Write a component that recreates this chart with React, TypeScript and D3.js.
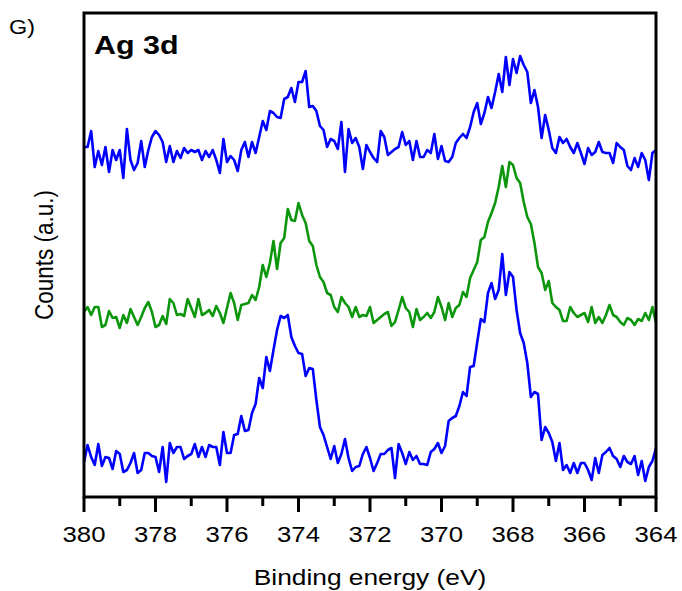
import React, { useEffect, useRef } from "react";
import * as d3 from "d3";

// binding energy grid, 380 -> 364 eV in 0.1 eV steps
const energies: number[] = d3.range(161).map((i) => +(380 - i * 0.1).toFixed(1));

// counts (a.u.), offset traces stacked top to bottom
const topBlue: number[] = [
  353, 353, 369, 333, 349, 335, 353, 328, 350, 340, 350, 322, 371, 340, 330, 337, 359, 333, 350, 363,
  369, 365, 358, 338, 354, 338, 349, 342, 352, 347, 350, 348, 350, 340, 349, 343, 350, 340, 327, 361,
  338, 344, 340, 329, 350, 358, 343, 358, 347, 363, 379, 370, 389, 387, 383,
  382, 401, 403, 412, 398, 418, 418, 429, 393, 394, 389, 374, 370, 353, 361, 359, 351, 378, 328, 371,
  357, 362, 353, 331, 355, 348, 342, 338, 369, 363, 345, 348, 351, 353, 368, 355, 359, 340, 359, 343,
  343, 350, 347, 366, 341, 354, 339, 338, 343, 357, 362, 366, 362,
  373, 388, 397, 376, 387, 403, 392, 408, 426, 408, 443, 415, 441, 427, 444, 435, 428, 397, 410, 393,
  362, 385, 370, 352, 347, 363, 357, 361, 353, 347, 357, 347, 336, 352, 345, 348, 358, 348, 347, 347,
  337, 357, 353, 350, 334, 330, 342, 333, 347, 340, 320, 347, 350,
];

const midGreen: number[] = [
  188, 193, 185, 193, 193, 173, 175, 189, 182, 183, 172, 185, 177, 191, 183, 175, 183, 192, 198, 188,
  173, 175, 184, 176, 201, 197, 185, 186, 184, 201, 192, 183, 201, 185, 187, 190, 184, 194, 187, 177,
  192, 207, 197, 180, 195, 196, 197, 205, 200, 213, 235, 223, 237, 259, 231, 257,
  262, 291, 280, 279, 297, 285, 277, 259, 254, 235, 223, 218, 207, 205, 193, 188, 203, 197, 193, 183,
  193, 183, 185, 184, 193, 177, 180, 183, 186, 188, 174, 178, 190, 203, 192, 188, 173, 191, 180, 183,
  187, 182, 188, 203, 193, 180, 197, 183, 192, 195, 208, 203,
  222, 230, 238, 260, 263, 278, 287, 297, 313, 334, 313, 338, 335, 322, 317, 298, 283, 276, 257, 233,
  227, 210, 219, 197, 193, 190, 179, 179, 193, 187, 183, 185, 187, 178, 193, 177, 183, 177, 185, 195,
  185, 183, 178, 175, 182, 180, 175, 181, 179, 187, 180, 193, 177,
];

const bottomBlue: number[] = [
  38, 55, 43, 35, 56, 34, 43, 42, 31, 49, 46, 28, 30, 37, 47, 27, 30, 47, 47, 44,
  43, 28, 53, 18, 57, 47, 53, 53, 41, 44, 46, 56, 43, 53, 43, 55, 53, 53, 35, 68,
  47, 47, 65, 66, 84, 69, 70, 87, 96, 122, 112, 143, 129, 150,
  170, 184, 182, 185, 163, 154, 147, 146, 124, 132, 131, 100, 73, 65, 53, 41, 54, 37, 46, 61,
  42, 29, 33, 34, 46, 53, 42, 29, 37, 46, 46, 50, 52, 22, 56, 47, 36, 48, 40, 44,
  36, 36, 35, 48, 51, 57, 47, 54, 79, 82, 84, 94, 108, 104,
  133, 134, 158, 181, 178, 207, 217, 201, 210, 246, 205, 228, 223, 190, 167, 157, 137, 103, 108, 106,
  60, 73, 67, 58, 39, 57, 30, 35, 27, 37, 27, 37, 37, 30, 20, 42, 27, 45, 48, 52,
  44, 41, 33, 44, 38, 36, 44, 25, 39, 19, 33, 39, 52,
];

const seriesList = [
  { name: "top", values: topBlue, color: "#0000ff" },
  { name: "middle", values: midGreen, color: "#0c960c" },
  { name: "bottom", values: bottomBlue, color: "#0000ff" },
];

const xTicks: number[] = [380, 378, 376, 374, 372, 370, 368, 366, 364];

const W = 682;
const H = 591;

const App = () => {
  const svgRef = useRef<SVGSVGElement>(null);

  useEffect(() => {
    const svg = d3.select(svgRef.current);
    svg.selectAll("*").remove();

    const left = 84, right = 656, top = 13, bottom = 497;
    const font = "'Liberation Sans', Arial, sans-serif";
    const stretch = 1.17; // the original text is a bit wide

    const x = d3.scaleLinear().domain([380, 364]).range([left, right]);
    const y = d3.scaleLinear().domain([3, 487]).range([bottom, top]);

    // wide text helper
    const label = (tx: number, ty: number, txt: string, size: number, anchor = "middle", weight = "normal") =>
      svg.append("text")
        .attr("transform", `translate(${tx},${ty}) scale(${stretch},1)`)
        .attr("text-anchor", anchor)
        .attr("font-family", font)
        .attr("font-size", size)
        .attr("font-weight", weight)
        .text(txt);

    // traces
    const line = d3.line<number>()
      .x((_, i) => x(energies[i]))
      .y((d) => y(d));

    svg.append("g")
      .selectAll("path")
      .data(seriesList)
      .enter()
      .append("path")
      .attr("fill", "none")
      .attr("stroke", (d) => d.color)
      .attr("stroke-width", 2.6)
      .attr("stroke-linejoin", "round")
      .attr("d", (d) => line(d.values));

    // frame
    svg.append("rect")
      .attr("x", left).attr("y", top)
      .attr("width", right - left).attr("height", bottom - top)
      .attr("fill", "none").attr("stroke", "black").attr("stroke-width", 3);

    // x axis ticks
    const minor = d3.range(380, 363, -1);
    svg.append("g")
      .selectAll("line")
      .data(minor)
      .enter()
      .append("line")
      .attr("x1", (d) => x(d)).attr("x2", (d) => x(d))
      .attr("y1", bottom)
      .attr("y2", (d) => bottom + (d % 2 === 0 ? 15 : 9))
      .attr("stroke", "black").attr("stroke-width", 3);

    xTicks.forEach((t) => label(x(t), 542, String(t), 22));

    label((left + right) / 2, 585, "Binding energy (eV)", 22.5);

    svg.append("text")
      .attr("transform", `translate(53,${(top + bottom) / 2}) rotate(-90) scale(1,${stretch})`)
      .attr("text-anchor", "middle")
      .attr("font-family", font)
      .attr("font-size", 22.5)
      .text("Counts (a.u.)");

    label(9, 34, "G)", 20, "start");
    label(94, 54, "Ag 3d", 26, "start", "bold");
  }, []);

  return (
    <svg
      ref={svgRef}
      width={W}
      height={H}
      style={{ position: "absolute", left: 0, top: 0, background: "white", display: "block" }}
    />
  );
};

export default App;
